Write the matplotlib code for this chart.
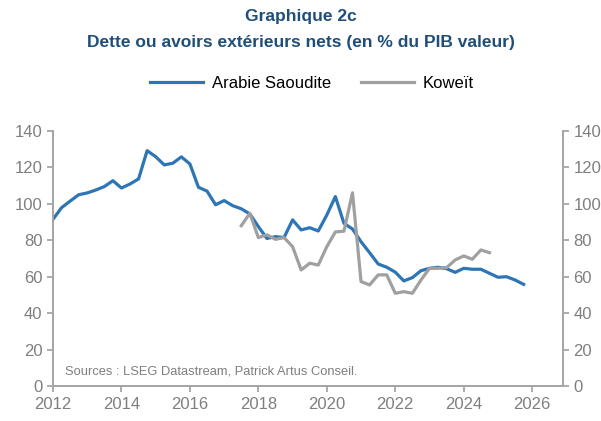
import numpy as np
import matplotlib
matplotlib.use("Agg")
import matplotlib.pyplot as plt
from matplotlib import font_manager

# quarterly data, starting 2012Q1
start_year = 2012.0
arabie = [91.5, 97.9, 101.5, 105.0, 106.0, 107.6, 109.5, 112.7, 108.7, 110.9,
          113.7, 129.2, 125.9, 121.4, 122.3, 125.8, 121.9, 109.1, 107.0, 99.5,
          101.8, 99.0, 97.3, 94.5, 87.5, 81.0, 82.0, 81.5, 91.2, 85.7,
          86.9, 85.1, 93.9, 104.0, 89.3, 86.2, 79.2, 73.2, 67.0, 65.2,
          62.5, 57.7, 59.5, 63.3, 64.6, 65.2, 64.4, 62.4, 64.6, 64.1,
          64.1, 61.9, 59.7, 60.0, 58.2, 55.8]
koweit_start = 2017.5
koweit = [88.0, 94.8, 81.5, 83.0, 80.5, 81.5, 76.5, 63.7, 67.4, 66.4,
          76.5, 84.6, 85.0, 106.1, 57.3, 55.5, 61.0, 61.0, 50.9, 51.8,
          50.9, 58.2, 64.6, 64.6, 65.0, 69.2, 71.4, 69.6, 74.7, 73.2]

x_ticks = [2012, 2014, 2016, 2018, 2020, 2022, 2024, 2026]
y_ticks = [0, 20, 40, 60, 80, 100, 120, 140]

names = [f.name for f in font_manager.fontManager.ttflist]
fam = "Liberation Sans Narrow" if "Liberation Sans Narrow" in names else "Liberation Sans"
plt.rcParams["font.family"] = [fam, "DejaVu Sans"]

blue = "#2E75B6"
grey = "#A0A0A0"
axis_col = "#A6A6A6"
label_col = "#7F7F7F"

x_a = start_year + np.arange(len(arabie)) / 4
x_k = koweit_start + np.arange(len(koweit)) / 4

fig = plt.figure(figsize=(6.01, 4.21), dpi=100)
ax = fig.add_axes([53 / 601, 1 - 386 / 421, (563 - 53) / 601, (386 - 131) / 421])
ax.plot(x_a, arabie, color=blue, lw=2.3, label="Arabie Saoudite")
ax.plot(x_k, koweit, color=grey, lw=2.3, label="Koweït")

ax.set_xlim(2012, 2026.9)
ax.set_ylim(0, 140)
ax.set_xticks(x_ticks)
ax.set_yticks(y_ticks)

ax2 = ax.twinx()
ax2.set_ylim(0, 140)
ax2.set_yticks(y_ticks)

for a in (ax, ax2):
    for s in a.spines.values():
        s.set_color(axis_col)
        s.set_linewidth(1.3)
    a.spines["top"].set_visible(False)
    a.tick_params(colors=axis_col, labelcolor=label_col, labelsize=12,
                  length=4, width=1.3, direction="out")
ax.tick_params(axis="x", pad=4)

ax.text(2012.35, 7.7, "Sources : LSEG Datastream, Patrick Artus Conseil.",
        color=label_col, fontsize=9.3, ha="left", va="center")

fig.text(0.5, 1 - 17 / 421, "Graphique 2c", ha="center", va="center",
         fontsize=12.5, fontweight="bold", color="#1F4E79")
fig.text(0.5, 1 - 43 / 421, "Dette ou avoirs extérieurs nets (en % du PIB valeur)",
         ha="center", va="center", fontsize=12.5, fontweight="bold", color="#1F4E79")

fig.legend(loc="center", bbox_to_anchor=(312 / 601, 1 - 83 / 421), ncol=2, frameon=False,
           fontsize=12, handlelength=3.2, columnspacing=1.75, handletextpad=0.55)

fig.savefig("out.png", dpi=100)
